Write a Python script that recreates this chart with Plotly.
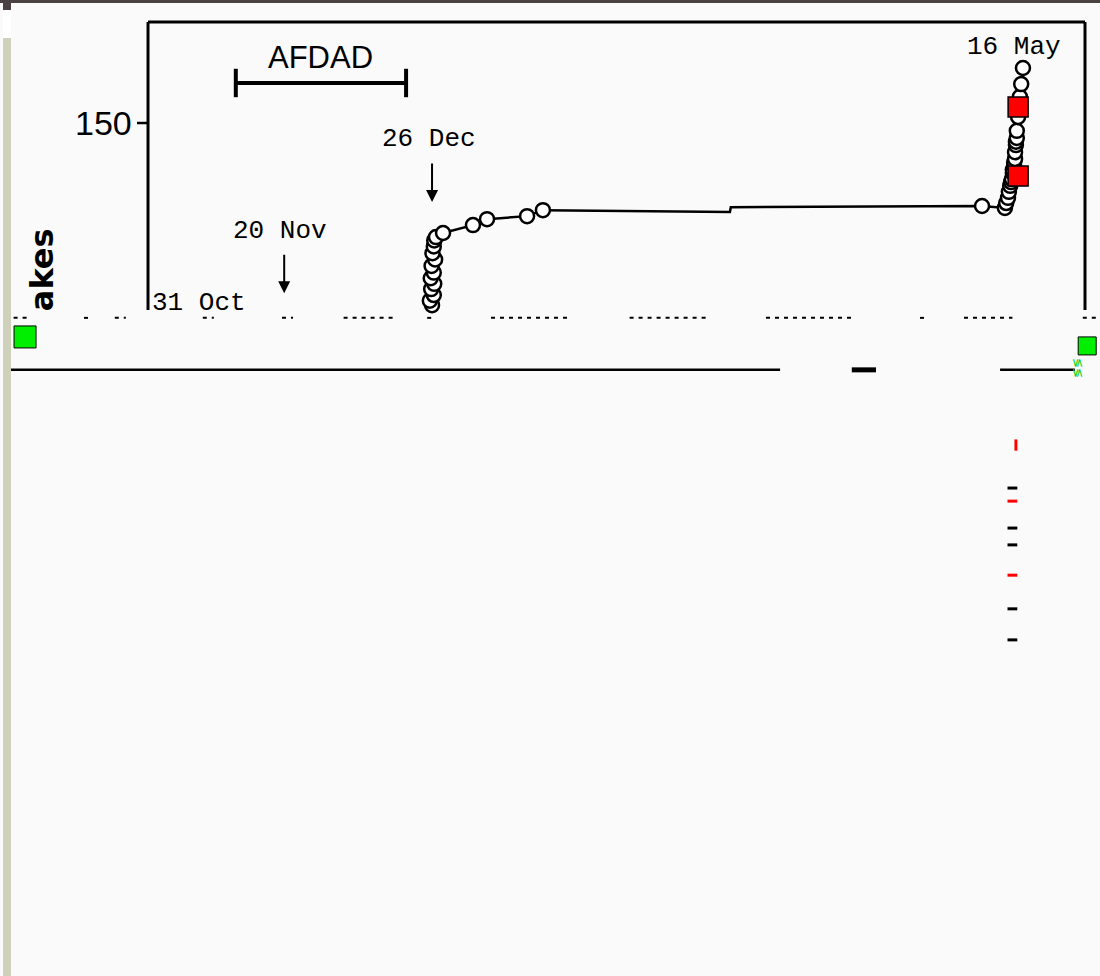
import plotly.graph_objects as go

# ---- data (x in days since 31 Oct, y in cumulative count) ----
main_days = [64.1, 63.6, 64.5, 63.9, 64.6, 63.8, 64.5, 64.0, 64.8, 64.2, 64.5, 64.6, 65.0,
             66.6, 73.4, 76.6, 85.7, 89.3, 131.8, 132.0, 189.1,
             194.3, 194.6, 195.0, 195.2, 195.5, 195.7, 195.9, 196.1, 196.1, 196.4, 196.4,
             196.6, 196.6, 196.8, 196.8, 197.0, 197.0, 197.3, 197.5, 197.7, 198.0, 198.4]
main_vals = [101.3, 102.5, 104.0, 105.6, 107.0, 108.5, 110.0, 111.8, 113.5, 115.2, 117.0, 118.6, 119.5,
             120.6, 122.7, 124.3, 125.1, 126.7, 126.2, 127.5, 127.8,
             127.3, 128.6, 130.0, 131.6, 133.2, 134.2, 135.0, 136.6, 137.5, 138.5, 139.5,
             140.4, 142.2, 144.1, 145.0, 146.0, 147.9, 151.6, 154.0, 157.0, 160.4, 164.7]
main_marker = [1] * 18 + [0, 0] + [1] * 23

red_days = [197.3, 197.3]
red_vals = [135.8, 154.3]

tick_days = [196.8, 196.0, 196.0, 196.0, 196.0, 196.0, 196.0, 196.0]
tick_vals = [63.9, 52.4, 48.9, 41.7, 37.2, 29.1, 20.1, 11.8]
tick_cols = ["red", "black", "red", "black", "black", "red", "black", "black"]

dash_segments = [(-31.0, -27.0), (-15.0, -14.0), (-8.0, -5.5), (12.0, 14.5), (30.0, 32.5),
                 (44.0, 56.0), (63.0, 65.0), (77.5, 95.0), (109.0, 127.0),
                 (140.0, 160.0), (175.0, 177.0), (185.0, 196.0), (212.0, 215.0)]
dash_level = 97.9

base_segments = [(-31.8, 143.2), (193.2, 210.2)]
base_level = 84.0
block_segment = (159.5, 165.0)

green_days = [-28.4, 213.0]
green_vals = [92.8, 90.4]

afdad_start, afdad_end, afdad_level = 19.5, 58.2, 160.7

labels = [
    ("20 Nov", 29.5, 121.1),
    ("26 Dec", 63.4, 145.7),
    ("16 May", 196.4, 170.3),
]
arrows = [(30.5, 104.5), (64.1, 128.9)]

box_left, box_right, box_top, box_bottom = -0.45, 212.5, 177.0, 100.0
ytick_val = 150

# ---- figure ----
fig = go.Figure()

# dashed fragments
dx, dy = [], []
for a, b in dash_segments:
    dx += [a, b, None]
    dy += [dash_level, dash_level, None]
fig.add_trace(go.Scatter(x=dx, y=dy, mode="lines",
                         line=dict(color="black", width=2, dash="4px,5px"),
                         hoverinfo="skip", showlegend=False))

# baseline
bx, by = [], []
for a, b in base_segments:
    bx += [a, b, None]
    by += [base_level, base_level, None]
fig.add_trace(go.Scatter(x=bx, y=by, mode="lines", line=dict(color="black", width=2.5),
                         hoverinfo="skip", showlegend=False))
fig.add_trace(go.Scatter(x=list(block_segment), y=[base_level, base_level], mode="lines",
                         line=dict(color="black", width=5), hoverinfo="skip", showlegend=False))

# main cumulative series
fig.add_trace(go.Scatter(
    x=main_days, y=main_vals, mode="lines+markers",
    line=dict(color="black", width=2.5),
    marker=dict(symbol="circle", size=[14 * m for m in main_marker], color="white",
                opacity=1, line=dict(color="black", width=2.5)),
    hoverinfo="skip", showlegend=False))

fig.add_trace(go.Scatter(
    x=red_days, y=red_vals, mode="markers",
    marker=dict(symbol="square", size=20, color="#ff0000", opacity=1,
                line=dict(color="black", width=1.5)),
    hoverinfo="skip", showlegend=False))

# red/black ticks
fig.add_trace(go.Scatter(
    x=tick_days[:1], y=tick_vals[:1], mode="markers",
    marker=dict(symbol="line-ns", size=8, line=dict(color="red", width=3)),
    hoverinfo="skip", showlegend=False))
fig.add_trace(go.Scatter(
    x=tick_days[1:], y=tick_vals[1:], mode="markers",
    marker=dict(symbol="line-ew", size=7, line=dict(color=tick_cols[1:], width=3)),
    hoverinfo="skip", showlegend=False))

# green squares
fig.add_trace(go.Scatter(
    x=green_days, y=green_vals, mode="markers",
    marker=dict(symbol="square", size=[22, 18], color="#00ee00", opacity=1,
                line=dict(color="black", width=1)),
    hoverinfo="skip", showlegend=False))

shapes = []
# frame (left, top, right)
for x0, y0, x1, y1 in [(box_left, box_bottom, box_left, box_top),
                       (box_left, box_top, box_right, box_top),
                       (box_right, box_top, box_right, box_bottom)]:
    shapes.append(dict(type="line", xref="x", yref="y", x0=x0, y0=y0, x1=x1, y1=y1,
                       line=dict(color="black", width=3)))
# y tick
shapes.append(dict(type="line", xref="x", yref="y", x0=box_left - 2.5, x1=box_left,
                   y0=ytick_val, y1=ytick_val, line=dict(color="black", width=2.5)))
# AFDAD bar
shapes.append(dict(type="line", xref="x", yref="y", x0=afdad_start, x1=afdad_end,
                   y0=afdad_level, y1=afdad_level, line=dict(color="black", width=4)))
for xc in (afdad_start, afdad_end):
    shapes.append(dict(type="line", xref="x", yref="y", x0=xc, x1=xc,
                       y0=afdad_level - 3.8, y1=afdad_level + 3.8,
                       line=dict(color="black", width=4)))
# page decorations
shapes += [
    dict(type="rect", xref="paper", yref="paper", x0=0, x1=1, y0=1 - 3 / 976, y1=1,
         fillcolor="#4a4242", line=dict(width=0), layer="above"),
    dict(type="rect", xref="paper", yref="paper", x0=3 / 1100, x1=11 / 1100,
         y0=1 - 10 / 976, y1=1, fillcolor="#4a4242", line=dict(width=0)),
    dict(type="rect", xref="paper", yref="paper", x0=3 / 1100, x1=11 / 1100,
         y0=1 - 38 / 976, y1=1 - 10 / 976, fillcolor="#ffffff", line=dict(width=0)),
    dict(type="rect", xref="paper", yref="paper", x0=3 / 1100, x1=11 / 1100,
         y0=0, y1=1 - 38 / 976, fillcolor="#cfd1bb", line=dict(width=0)),
]

annotations = [
    dict(text="AFDAD", x=(afdad_start + afdad_end) / 2, y=167.6, xref="x", yref="y",
         showarrow=False, font=dict(family="Liberation Sans", size=31, color="black")),
    dict(text=str(ytick_val), x=box_left - 3.3, y=ytick_val, xref="x", yref="y",
         xanchor="right", showarrow=False,
         font=dict(family="Liberation Sans", size=34, color="black")),
    dict(text="31 Oct", x=box_left + 0.5, y=101.8, xref="x", yref="y", xanchor="left",
         showarrow=False, font=dict(family="Liberation Mono", size=26, color="black")),
    dict(text="<b>akes</b>", x=-24.5, y=110.7, xref="x", yref="y", textangle=-90,
         showarrow=False, font=dict(family="DejaVu Sans", size=32, color="black")),
    dict(text="≶≶", x=213.0, y=84.5, xref="x", yref="y", textangle=90, xanchor="right",
         showarrow=False, font=dict(family="DejaVu Sans", size=12, color="#00d000")),
]
for t, xv, yv in labels:
    annotations.append(dict(text=t, x=xv, y=yv, xref="x", yref="y", showarrow=False,
                            font=dict(family="Liberation Mono", size=26, color="black")))
for xv, yv in arrows:
    annotations.append(dict(text="", x=xv, y=yv, xref="x", yref="y", showarrow=True,
                            ax=0, ay=-40, arrowhead=2, arrowsize=1.2, arrowwidth=2,
                            arrowcolor="black"))

fig.update_layout(
    width=1100, height=976,
    margin=dict(l=0, r=0, t=0, b=0),
    paper_bgcolor="#fafafa", plot_bgcolor="#fafafa",
    xaxis=dict(range=[-34.09, 215.91], visible=False, fixedrange=True),
    yaxis=dict(range=[-78.07, 182.89], visible=False, fixedrange=True),
    shapes=shapes, annotations=annotations, showlegend=False,
)

fig.write_html("out.html", config={"displayModeBar": False},
               post_script="document.body.style.margin='0';document.body.style.overflow='hidden';")
